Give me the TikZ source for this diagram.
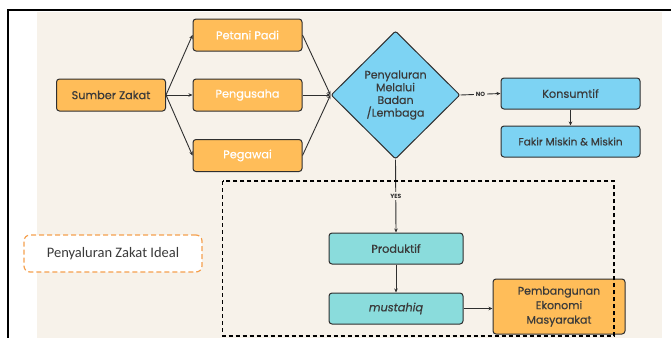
\documentclass[tikz,border=0pt]{standalone}
\usepackage{fontspec}
\setmainfont{Poppins}
\newfontfamily\popm{Poppins}[FakeBold=0.5]
\newfontfamily\calib{Carlito}
\usetikzlibrary{shapes.geometric,arrows.meta}
\definecolor{bgc}{HTML}{F7F2EA}
\definecolor{orng}{HTML}{FFBD59}
\definecolor{skyb}{HTML}{7DD3F3}
\definecolor{teal}{HTML}{8ADCDC}
\definecolor{dk}{HTML}{2F2F2F}
\definecolor{txt}{HTML}{3A3A3A}
\definecolor{dash}{HTML}{F5A04E}
\begin{document}
\begin{tikzpicture}[x=1pt,y=-1pt,
  box/.style={rectangle,rounded corners=3pt,draw=dk,line width=1pt,minimum width=109pt,minimum height=32pt,inner sep=0pt,align=center,font=\popm\fontsize{11.3}{13}\selectfont,text=txt},
  ob/.style={box,fill=orng},
  bb/.style={box,fill=skyb,minimum width=139pt,minimum height=31pt},
  tb/.style={box,fill=teal,minimum width=134pt,minimum height=31pt},
  wt/.style={text=white},
  arr/.style={draw=dk,line width=0.9pt,-{Stealth[length=4pt,width=3.5pt]}},
  lbl/.style={fill=bgc,inner sep=2pt,font=\bfseries\fontsize{6}{7}\selectfont,text=dk}]
\useasboundingbox (0,0) rectangle (671,338);
\fill[bgc] (37,12) rectangle (662,338);
\draw[line width=1.5pt,black] (671,10) -- (8,10) -- (8,338);

\node[ob] (sz) at (111,95) {Sumber Zakat};
\node[ob,wt] (pp) at (247.5,35) {Petani Padi};
\node[ob,wt] (pg) at (247.5,95) {Pengusaha};
\node[ob,wt] (pw) at (247.5,155.5) {Pegawai};
\node[diamond,draw=dk,line width=1pt,fill=skyb,rounded corners=2pt,minimum width=129pt,minimum height=128pt,inner sep=0pt,align=center,font=\popm\fontsize{11}{12.7}\selectfont,text=txt] (dia) at (395.5,95) {Penyaluran\\Melalui\\Badan\\/Lembaga};
\node[bb] (kon) at (570.5,93.5) {Konsumtif};
\node[bb,font=\popm\fontsize{10.5}{13}\selectfont] (fak) at (570.5,141.5) {Fakir Miskin \& Miskin};
\node[tb] (pro) at (396,248.5) {Produktif};
\node[tb] (mus) at (396,308.5) {\itshape mustahiq};
\node[ob,minimum width=132pt,minimum height=55pt,font=\popm\fontsize{11}{14.5}\selectfont] (pem) at (559,306.5) {Pembangunan\\Ekonomi\\Masyarakat};
\node[rectangle,rounded corners=6pt,draw=dash,dashed,dash pattern=on 5pt off 3pt,line width=1.2pt,fill=white,minimum width=178pt,minimum height=37pt,font=\calib\fontsize{14.5}{16}\selectfont,text=txt] (ideal) at (113,253.5) {Penyaluran Zakat Ideal};

\draw[arr] (sz.east) -- (pp.west);
\draw[arr] (sz.east) -- (pg.west);
\draw[arr] (sz.east) -- (pw.west);
\draw[arr] (pp.east) -- (dia.west);
\draw[arr] (pg.east) -- (dia.west);
\draw[arr] (pw.east) -- (dia.west);
\draw[arr] (dia.east) -- node[lbl] {NO} (kon.west);
\draw[arr] (kon.south) -- (fak.north);
\draw[arr] (dia.south) -- node[lbl] {YES} (pro.north);
\draw[arr] (pro.south) -- (mus.north);
\draw[arr] (mus.east) -- (mus.east -| pem.west);
\draw[line width=1.3pt,dash pattern=on 4pt off 3pt] (222.7,181) rectangle (614,336);
\end{tikzpicture}
\end{document}
